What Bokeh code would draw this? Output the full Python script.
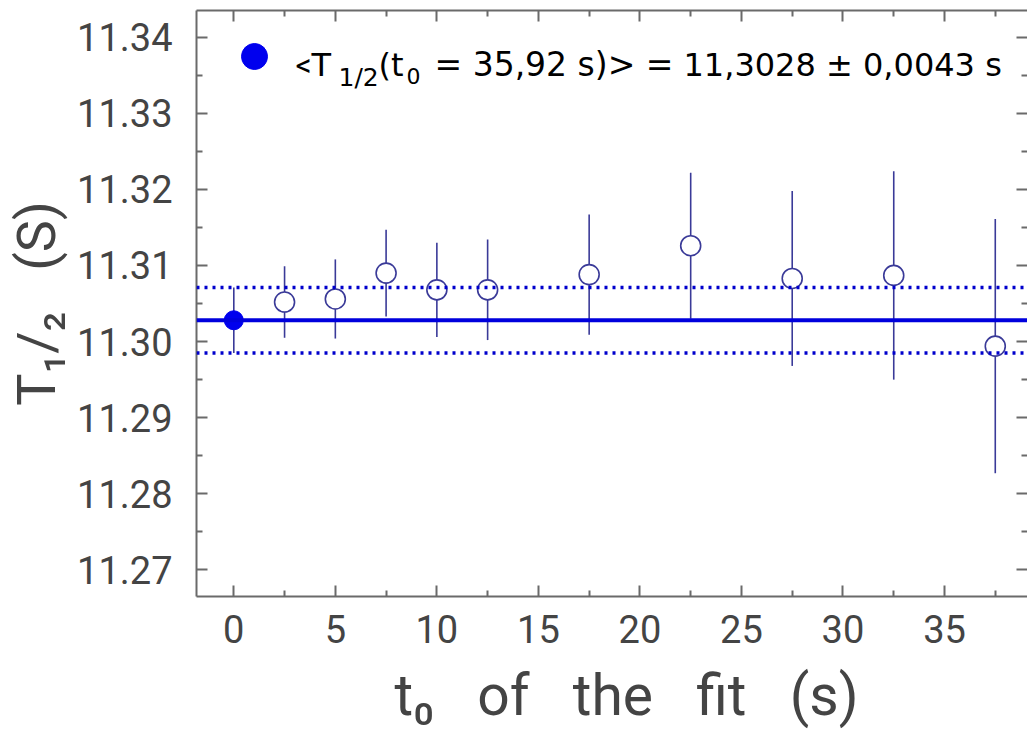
from bokeh.plotting import figure
from bokeh.models import (ColumnDataSource, Span, Label, LinearAxis, FixedTicker,
                          Range1d, PrintfTickFormatter, CustomJSTickFormatter)
from bokeh.embed import file_html
from bokeh.resources import INLINE

# ---------------- data ----------------
t0_values = [0.0, 2.5, 5.0, 7.5, 10.0, 12.5, 17.5, 22.5, 27.5, 32.5, 37.5]
half_life = [11.3028, 11.3052, 11.3056, 11.3090, 11.3068, 11.3068,
             11.3088, 11.3126, 11.3083, 11.3087, 11.2994]
half_life_err = [0.0043, 0.0047, 0.0052, 0.0057, 0.0062, 0.0066,
                 0.0079, 0.0096, 0.0115, 0.0137, 0.0167]
mean_value = 11.3028
mean_error = 0.0043

x_major_ticks = [0, 5, 10, 15, 20, 25, 30, 35]
x_minor_ticks = [2.5, 7.5, 12.5, 17.5, 22.5, 27.5, 32.5, 37.5]
x_tick_labels = ["0", "5", "10", "15", "20", "25", "30", "35"]
y_major_ticks = [11.27, 11.28, 11.29, 11.30, 11.31, 11.32, 11.33, 11.34]
y_minor_ticks = [11.275, 11.285, 11.295, 11.305, 11.315, 11.325, 11.335]
y_tick_labels = ["11.27", "11.28", "11.29", "11.30", "11.31", "11.32", "11.33", "11.34"]

legend_parts = ["<", "T", "1/2", "(t", "0", "= 35,92 s)> =", "11,3028 \u00b1 0,0043 s"]
x_title = "\u2002t\u2080\u2002 of\u2002 the\u2002 fit\u2002 (s)"
y_title = "T\u2081/\u2082\u2002 (S)"

# ---------------- layout ----------------
W, H = 1027, 740
FL, FT, FW, FH = 196, 10, 831, 586
x_lo, x_hi = -1.837, 39.087
y_lo, y_hi = 11.2665, 11.34351

def px_x(px):
    return x_lo + (px - FL) / FW * (x_hi - x_lo)

def px_y(py):
    return y_hi - (py - FT) / FH * (y_hi - y_lo)

p = figure(width=W, height=H, output_backend="svg", toolbar_location=None,
           x_range=Range1d(x_lo, x_hi), y_range=Range1d(y_lo, y_hi),
           min_border_left=FL, min_border_right=0, min_border_top=FT,
           min_border_bottom=H - FT - FH)
p.background_fill_color = "white"
p.border_fill_color = "white"
p.outline_line_color = None
p.xgrid.visible = False
p.ygrid.visible = False

AX_COL = "#6a6a6a"
LBL_COL = "#444444"

def style_axis(ax, show_labels, line=True):
    ax.axis_line_color = AX_COL if line else None
    ax.axis_line_width = 2
    ax.major_tick_line_color = AX_COL
    ax.minor_tick_line_color = AX_COL
    ax.major_tick_line_width = 2
    ax.minor_tick_line_width = 2
    ax.major_tick_in = 11
    ax.major_tick_out = 0
    ax.minor_tick_in = 6
    ax.minor_tick_out = 0
    if show_labels:
        ax.major_label_text_font = "Roboto"
        ax.major_label_text_font_size = "38px"
        ax.major_label_text_color = LBL_COL
    else:
        ax.formatter = CustomJSTickFormatter(code="return ''")
        ax.major_label_standoff = 0

xticker = FixedTicker(ticks=x_major_ticks, minor_ticks=x_minor_ticks)
yticker = FixedTicker(ticks=y_major_ticks, minor_ticks=y_minor_ticks)

xa = p.xaxis[0]
xa.ticker = xticker
xa.major_label_overrides = {v: s for v, s in zip(x_major_ticks, x_tick_labels)}
style_axis(xa, True)
xa.major_label_standoff = 18
xa.axis_label = x_title
xa.axis_label_text_font = "Roboto"
xa.axis_label_text_font_size = "57px"
xa.axis_label_text_font_style = "normal"
xa.axis_label_text_color = LBL_COL
xa.axis_label_standoff = 16

ya = p.yaxis[0]
ya.ticker = yticker
ya.formatter = PrintfTickFormatter(format="%.2f")
ya.major_label_overrides = {v: s for v, s in zip(y_major_ticks, y_tick_labels)}
style_axis(ya, True)
ya.major_label_standoff = 24
ya.axis_label = y_title
ya.axis_label_text_font = "Roboto"
ya.axis_label_text_font_size = "54px"
ya.axis_label_text_font_style = "normal"
ya.axis_label_text_color = LBL_COL
ya.axis_label_standoff = 6

top = LinearAxis(ticker=FixedTicker(ticks=x_major_ticks, minor_ticks=x_minor_ticks))
style_axis(top, False)
p.add_layout(top, "above")

right = LinearAxis(ticker=FixedTicker(ticks=y_major_ticks, minor_ticks=y_minor_ticks))
style_axis(right, False, line=False)
p.add_layout(right, "right")

# ---------------- marks ----------------
src = ColumnDataSource(dict(
    x=t0_values, y=half_life,
    lo=[v - e for v, e in zip(half_life, half_life_err)],
    hi=[v + e for v, e in zip(half_life, half_life_err)],
))
ERR_COL = "#3a3a98"
p.segment(x0="x", y0="lo", x1="x", y1="hi", source=src, line_color=ERR_COL, line_width=1.6)

open_src = ColumnDataSource(dict(x=t0_values[1:], y=half_life[1:]))
p.scatter(x="x", y="y", source=open_src, marker="circle", size=20,
          fill_color="white", line_color=ERR_COL, line_width=1.6)

p.add_layout(Span(location=mean_value, dimension="width", line_color="#0000dd", line_width=4))
p.add_layout(Span(location=mean_value + mean_error, dimension="width",
                  line_color="#0000cc", line_width=3.5, line_dash="3 5"))
p.add_layout(Span(location=mean_value - mean_error, dimension="width",
                  line_color="#0000cc", line_width=3.5, line_dash="3 5"))

filled_src = ColumnDataSource(dict(x=t0_values[:1], y=half_life[:1]))
p.scatter(x="x", y="y", source=filled_src, marker="circle", size=19,
          fill_color="#0000ee", line_color="#0000ee")

# legend key
key_src = ColumnDataSource(dict(x=[px_x(254)], y=[px_y(56)]))
p.scatter(x="x", y="y", source=key_src, marker="circle", size=26,
          fill_color="#0000ee", line_color="#0000ee")

# ---------------- legend text ----------------
def add_label(text, px, py, font, size, color="black"):
    p.add_layout(Label(x=px_x(px), y=px_y(py), text=text, text_font=font,
                       text_font_size=size, text_color=color,
                       text_baseline="alphabetic", text_align="left"))

LF = "DejaVu Sans"
add_label(legend_parts[0], 295, 64, "Roboto", "32px")
add_label(legend_parts[1], 311, 64, LF, "32px")
add_label(legend_parts[2], 338, 77, LF, "25px")
add_label(legend_parts[3], 378, 64, LF, "32px")
add_label(legend_parts[4], 406, 75, LF, "22px")
add_label(legend_parts[5], 434, 64, LF, "33px")
add_label(legend_parts[6], 683, 64, LF, "32px")

open("out.html", "w").write(file_html(p, INLINE))
